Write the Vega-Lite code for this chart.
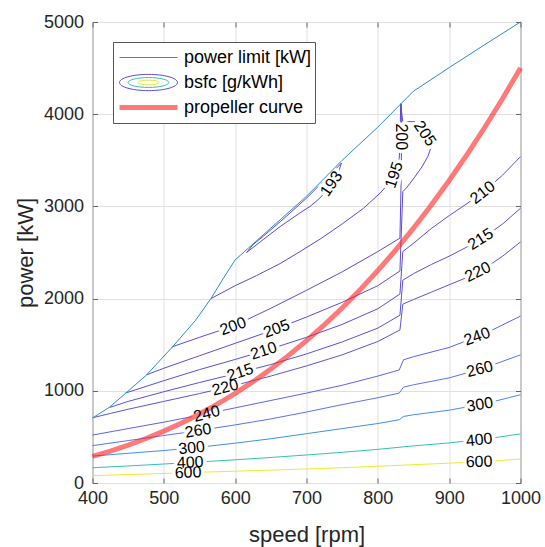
{
"$schema": "https://vega.github.io/schema/vega-lite/v6.json",
"width": 428, "height": 461,
"autosize": "none",
"padding": {"left": 92.5, "top": 22, "right": 24.5, "bottom": 64},
"background": "white",
"config": {
  "view": {"stroke": "#666666", "strokeWidth": 1},
  "font": "Liberation Sans",
  "text": {"font": "Liberation Sans", "fontSize": 16},
  "legend": {"orient": "none", "labelFont": "Liberation Sans", "labelFontSize": 18, "labelColor": "#000000", "padding": 3, "symbolOffset": 3, "labelOffset": 6, "rowPadding": 0, "clipHeight": 25, "symbolSize": 3364, "symbolStrokeWidth": 1, "labelLimit": 300}
},
"datasets": {
  "contours": [
    {"c":"193","i":0,"x":749,"y":3470},{"c":"193","i":1,"x":730,"y":3320},{"c":"193","i":2,"x":700,"y":3090},{"c":"193","i":3,"x":670,"y":2880},{"c":"193","i":4,"x":640,"y":2680},{"c":"193","i":5,"x":625,"y":2585},{"c":"193","i":6,"x":616,"y":2500},{"c":"193","i":7,"x":640,"y":2644},{"c":"193","i":8,"x":663,"y":2781},{"c":"193","i":9,"x":690,"y":2925},{"c":"193","i":10,"x":705,"y":3000},{"c":"193","i":11,"x":716,"y":3070},{"c":"193","i":12,"x":726,"y":3150},{"c":"193","i":13,"x":736,"y":3255},{"c":"193","i":14,"x":746,"y":3400},{"c":"193","i":15,"x":749,"y":3470},
    {"c":"195","i":0,"x":566,"y":2000},{"c":"195","i":1,"x":600,"y":2140},{"c":"195","i":2,"x":630,"y":2250},{"c":"195","i":3,"x":663,"y":2380},{"c":"195","i":4,"x":691,"y":2510},{"c":"195","i":5,"x":720,"y":2650},{"c":"195","i":6,"x":750,"y":2810},{"c":"195","i":7,"x":780,"y":2980},{"c":"195","i":8,"x":803,"y":3143},{"c":"195","i":9,"x":812,"y":3220},{"c":"195","i":10,"x":820,"y":3300},{"c":"195","i":11,"x":826,"y":3400},{"c":"195","i":12,"x":830,"y":3520},{"c":"195","i":13,"x":831,"y":3650},{"c":"195","i":14,"x":832,"y":4115},
    {"c":"200","i":0,"x":511,"y":1475},{"c":"200","i":1,"x":550,"y":1580},{"c":"200","i":2,"x":600,"y":1710},{"c":"200","i":3,"x":650,"y":1895},{"c":"200","i":4,"x":700,"y":2090},{"c":"200","i":5,"x":750,"y":2290},{"c":"200","i":6,"x":800,"y":2510},{"c":"200","i":7,"x":831,"y":2656},{"c":"200","i":8,"x":833,"y":3400},{"c":"200","i":9,"x":833,"y":4115},
    {"c":"205","i":0,"x":476,"y":1174},{"c":"205","i":1,"x":500,"y":1245},{"c":"205","i":2,"x":550,"y":1380},{"c":"205","i":3,"x":600,"y":1515},{"c":"205","i":4,"x":650,"y":1650},{"c":"205","i":5,"x":700,"y":1800},{"c":"205","i":6,"x":750,"y":1960},{"c":"205","i":7,"x":800,"y":2140},{"c":"205","i":8,"x":831,"y":2300},{"c":"205","i":9,"x":835,"y":3160},{"c":"205","i":10,"x":840,"y":3200},{"c":"205","i":11,"x":850,"y":3300},{"c":"205","i":12,"x":862,"y":3430},{"c":"205","i":13,"x":870,"y":3540},{"c":"205","i":14,"x":875,"y":3648},{"c":"205","i":15,"x":864,"y":3785},{"c":"205","i":16,"x":852,"y":3919},{"c":"205","i":17,"x":835,"y":3919},{"c":"205","i":18,"x":832,"y":4112},
    {"c":"210","i":0,"x":446,"y":975},{"c":"210","i":1,"x":500,"y":1110},{"c":"210","i":2,"x":550,"y":1230},{"c":"210","i":3,"x":600,"y":1340},{"c":"210","i":4,"x":650,"y":1455},{"c":"210","i":5,"x":700,"y":1580},{"c":"210","i":6,"x":750,"y":1720},{"c":"210","i":7,"x":800,"y":1890},{"c":"210","i":8,"x":831,"y":2050},{"c":"210","i":9,"x":835,"y":2510},{"c":"210","i":10,"x":850,"y":2600},{"c":"210","i":11,"x":875,"y":2760},{"c":"210","i":12,"x":900,"y":2900},{"c":"210","i":13,"x":925,"y":3030},{"c":"210","i":14,"x":950,"y":3170},{"c":"210","i":15,"x":975,"y":3340},{"c":"210","i":16,"x":1000,"y":3540},
    {"c":"215","i":0,"x":424,"y":819},{"c":"215","i":1,"x":450,"y":885},{"c":"215","i":2,"x":500,"y":990},{"c":"215","i":3,"x":550,"y":1090},{"c":"215","i":4,"x":600,"y":1185},{"c":"215","i":5,"x":650,"y":1285},{"c":"215","i":6,"x":700,"y":1400},{"c":"215","i":7,"x":750,"y":1530},{"c":"215","i":8,"x":800,"y":1680},{"c":"215","i":9,"x":831,"y":1820},{"c":"215","i":10,"x":835,"y":2200},{"c":"215","i":11,"x":850,"y":2270},{"c":"215","i":12,"x":875,"y":2370},{"c":"215","i":13,"x":900,"y":2460},{"c":"215","i":14,"x":925,"y":2560},{"c":"215","i":15,"x":950,"y":2670},{"c":"215","i":16,"x":975,"y":2810},{"c":"215","i":17,"x":1000,"y":2980},
    {"c":"220","i":0,"x":400,"y":708},{"c":"220","i":1,"x":450,"y":800},{"c":"220","i":2,"x":500,"y":885},{"c":"220","i":3,"x":550,"y":970},{"c":"220","i":4,"x":600,"y":1060},{"c":"220","i":5,"x":650,"y":1160},{"c":"220","i":6,"x":700,"y":1270},{"c":"220","i":7,"x":750,"y":1390},{"c":"220","i":8,"x":800,"y":1535},{"c":"220","i":9,"x":831,"y":1660},{"c":"220","i":10,"x":835,"y":1940},{"c":"220","i":11,"x":850,"y":1990},{"c":"220","i":12,"x":875,"y":2070},{"c":"220","i":13,"x":900,"y":2150},{"c":"220","i":14,"x":925,"y":2230},{"c":"220","i":15,"x":950,"y":2330},{"c":"220","i":16,"x":975,"y":2460},{"c":"220","i":17,"x":1000,"y":2615},
    {"c":"240","i":0,"x":400,"y":520},{"c":"240","i":1,"x":450,"y":590},{"c":"240","i":2,"x":500,"y":660},{"c":"240","i":3,"x":550,"y":735},{"c":"240","i":4,"x":600,"y":815},{"c":"240","i":5,"x":650,"y":895},{"c":"240","i":6,"x":700,"y":975},{"c":"240","i":7,"x":750,"y":1060},{"c":"240","i":8,"x":800,"y":1160},{"c":"240","i":9,"x":830,"y":1226},{"c":"240","i":10,"x":836,"y":1336},{"c":"240","i":11,"x":850,"y":1370},{"c":"240","i":12,"x":900,"y":1470},{"c":"240","i":13,"x":950,"y":1620},{"c":"240","i":14,"x":1000,"y":1810},
    {"c":"260","i":0,"x":400,"y":405},{"c":"260","i":1,"x":450,"y":460},{"c":"260","i":2,"x":500,"y":515},{"c":"260","i":3,"x":550,"y":570},{"c":"260","i":4,"x":600,"y":630},{"c":"260","i":5,"x":650,"y":695},{"c":"260","i":6,"x":700,"y":770},{"c":"260","i":7,"x":750,"y":850},{"c":"260","i":8,"x":800,"y":925},{"c":"260","i":9,"x":830,"y":975},{"c":"260","i":10,"x":836,"y":1040},{"c":"260","i":11,"x":850,"y":1065},{"c":"260","i":12,"x":900,"y":1140},{"c":"260","i":13,"x":950,"y":1250},{"c":"260","i":14,"x":1000,"y":1390},
    {"c":"300","i":0,"x":400,"y":292},{"c":"300","i":1,"x":450,"y":322},{"c":"300","i":2,"x":500,"y":352},{"c":"300","i":3,"x":550,"y":388},{"c":"300","i":4,"x":600,"y":432},{"c":"300","i":5,"x":650,"y":480},{"c":"300","i":6,"x":700,"y":535},{"c":"300","i":7,"x":750,"y":590},{"c":"300","i":8,"x":800,"y":645},{"c":"300","i":9,"x":830,"y":686},{"c":"300","i":10,"x":836,"y":722},{"c":"300","i":11,"x":850,"y":740},{"c":"300","i":12,"x":900,"y":790},{"c":"300","i":13,"x":950,"y":860},{"c":"300","i":14,"x":1000,"y":957},
    {"c":"400","i":0,"x":400,"y":165},{"c":"400","i":1,"x":450,"y":185},{"c":"400","i":2,"x":500,"y":206},{"c":"400","i":3,"x":550,"y":228},{"c":"400","i":4,"x":600,"y":252},{"c":"400","i":5,"x":650,"y":277},{"c":"400","i":6,"x":700,"y":304},{"c":"400","i":7,"x":750,"y":333},{"c":"400","i":8,"x":800,"y":365},{"c":"400","i":9,"x":831,"y":388},{"c":"400","i":10,"x":836,"y":393},{"c":"400","i":11,"x":900,"y":435},{"c":"400","i":12,"x":950,"y":475},{"c":"400","i":13,"x":1000,"y":533},
    {"c":"600","i":0,"x":400,"y":80},{"c":"600","i":1,"x":450,"y":92},{"c":"600","i":2,"x":500,"y":104},{"c":"600","i":3,"x":550,"y":116},{"c":"600","i":4,"x":600,"y":128},{"c":"600","i":5,"x":650,"y":140},{"c":"600","i":6,"x":700,"y":152},{"c":"600","i":7,"x":750,"y":166},{"c":"600","i":8,"x":800,"y":182},{"c":"600","i":9,"x":831,"y":192},{"c":"600","i":10,"x":900,"y":215},{"c":"600","i":11,"x":950,"y":233},{"c":"600","i":12,"x":1000,"y":260}
  ],
  "limit": [
    {"x":400,"y":705},{"x":424,"y":823},{"x":446,"y":970},{"x":476,"y":1174},{"x":512,"y":1475},{"x":544,"y":1760},{"x":566,"y":2000},{"x":583,"y":2214},{"x":600,"y":2420},{"x":650,"y":2765},{"x":700,"y":3110},{"x":750,"y":3500},{"x":800,"y":3860},{"x":832,"y":4110},{"x":850,"y":4250},{"x":900,"y":4505},{"x":950,"y":4755},{"x":1000,"y":5000}
  ],
  "prop": [
    {"x":400,"y":288},{"x":425,"y":345.4},{"x":450,"y":410.1},{"x":475,"y":482.3},{"x":500,"y":562.5},{"x":525,"y":651.2},{"x":550,"y":748.7},{"x":575,"y":855.5},{"x":600,"y":972},{"x":625,"y":1098.6},{"x":650,"y":1235.8},{"x":675,"y":1384},{"x":700,"y":1543.5},{"x":725,"y":1714.9},{"x":750,"y":1898.4},{"x":775,"y":2094.7},{"x":800,"y":2304},{"x":825,"y":2526.8},{"x":850,"y":2763.6},{"x":875,"y":3014.6},{"x":900,"y":3280.5},{"x":925,"y":3561.5},{"x":950,"y":3858.2},{"x":975,"y":4170.9},{"x":1000,"y":4500}
  ],
  "labels": [
    {"id":"193a","t":"193","x":735,"y":3245},
    {"id":"195a","t":"195","x":823,"y":3340},
    {"id":"200t","t":"200","x":832.5,"y":3755},
    {"id":"205t","t":"205","x":866,"y":3790},
    {"id":"200L","t":"200","x":597,"y":1700},
    {"id":"205L","t":"205","x":658,"y":1672},
    {"id":"210L","t":"210","x":640,"y":1432},
    {"id":"215L","t":"215","x":607,"y":1200},
    {"id":"220L","t":"220","x":586,"y":1035},
    {"id":"240L","t":"240","x":560,"y":750},
    {"id":"260L","t":"260","x":548,"y":567},
    {"id":"300L","t":"300","x":539,"y":380},
    {"id":"400L","t":"400","x":537,"y":222},
    {"id":"600L","t":"600","x":534,"y":112},
    {"id":"210R","t":"210","x":947,"y":3150},
    {"id":"215R","t":"215","x":944,"y":2645},
    {"id":"220R","t":"220","x":940,"y":2290},
    {"id":"240R","t":"240","x":939,"y":1588},
    {"id":"260R","t":"260","x":943,"y":1235},
    {"id":"300R","t":"300","x":943,"y":850},
    {"id":"400R","t":"400","x":942,"y":468},
    {"id":"600R","t":"600","x":942,"y":230}
  ]
},
"encoding": {
  "x": {"field": "x", "type": "quantitative", "scale": {"domain": [400, 1000], "nice": false, "zero": false}, "axis": null},
  "y": {"field": "y", "type": "quantitative", "scale": {"domain": [0, 5000], "nice": false, "zero": false}, "axis": null}
},
"layer": [
  {
    "data": {"name": "contours"},
    "mark": {"type": "line", "strokeWidth": 1},
    "encoding": {
      "x": {"field": "x", "type": "quantitative", "scale": {"domain": [400, 1000], "nice": false, "zero": false},
        "axis": {"orient": "bottom", "values": [400,500,600,700,800,900,1000], "format": "d", "title": "speed [rpm]", "grid": true, "gridColor": "#e0e0e0", "domain": false, "ticks": true, "tickSize": -5, "tickColor": "#666666", "labelFlush": false, "labelOverlap": false, "labelFont": "Liberation Sans", "labelFontSize": 18, "labelColor": "#262626", "labelPadding": 11, "titleFont": "Liberation Sans", "titleFontSize": 22, "titleFontWeight": "normal", "titleColor": "#262626", "titlePadding": 17}},
      "y": {"field": "y", "type": "quantitative", "scale": {"domain": [0, 5000], "nice": false, "zero": false},
        "axis": {"orient": "left", "values": [0,1000,2000,3000,4000,5000], "format": "d", "title": "power [kW]", "grid": true, "gridColor": "#e0e0e0", "domain": false, "ticks": true, "tickSize": -5, "tickColor": "#666666", "labelFlush": false, "labelOverlap": false, "labelFont": "Liberation Sans", "labelFontSize": 18, "labelColor": "#262626", "labelPadding": 14, "titleFont": "Liberation Sans", "titleFontSize": 22, "titleFontWeight": "normal", "titleColor": "#262626", "titlePadding": 6}},
      "stroke": {"field": "c", "type": "nominal", "scale": {"domain": ["193","195","200","205","210","215","220","240","260","300","400","600"], "range": ["#5a48d0","#5a49d2","#5a4ad4","#5a4cd6","#5a4ed8","#5a51da","#5a54dc","#5b63ea","#5575f2","#3f8ef0","#33c2b0","#ecec28"]}, "legend": null},
      "order": {"field": "i", "type": "quantitative"}
    }
  },
  {"data": {"name": "labels"}, "transform": [{"filter": {"field": "id", "oneOf": ["600L","400L","600R"]}}], "mark": {"type": "text", "angle": -2, "fill": "white", "stroke": "white", "strokeWidth": 7, "strokeJoin": "round"}, "encoding": {"text": {"field": "t"}}},
  {"data": {"name": "labels"}, "transform": [{"filter": {"field": "id", "oneOf": ["300L","400R"]}}], "mark": {"type": "text", "angle": -6, "fill": "white", "stroke": "white", "strokeWidth": 7, "strokeJoin": "round"}, "encoding": {"text": {"field": "t"}}},
  {"data": {"name": "labels"}, "transform": [{"filter": {"field": "id", "oneOf": ["260L","300R"]}}], "mark": {"type": "text", "angle": -9, "fill": "white", "stroke": "white", "strokeWidth": 7, "strokeJoin": "round"}, "encoding": {"text": {"field": "t"}}},
  {"data": {"name": "labels"}, "transform": [{"filter": {"field": "id", "oneOf": ["240L","220L","260R"]}}], "mark": {"type": "text", "angle": -14, "fill": "white", "stroke": "white", "strokeWidth": 7, "strokeJoin": "round"}, "encoding": {"text": {"field": "t"}}},
  {"data": {"name": "labels"}, "transform": [{"filter": {"field": "id", "oneOf": ["215L","210L"]}}], "mark": {"type": "text", "angle": -18, "fill": "white", "stroke": "white", "strokeWidth": 7, "strokeJoin": "round"}, "encoding": {"text": {"field": "t"}}},
  {"data": {"name": "labels"}, "transform": [{"filter": {"field": "id", "oneOf": ["200L","205L","240R"]}}], "mark": {"type": "text", "angle": -20, "fill": "white", "stroke": "white", "strokeWidth": 7, "strokeJoin": "round"}, "encoding": {"text": {"field": "t"}}},
  {"data": {"name": "labels"}, "transform": [{"filter": {"field": "id", "oneOf": ["220R"]}}], "mark": {"type": "text", "angle": -26, "fill": "white", "stroke": "white", "strokeWidth": 7, "strokeJoin": "round"}, "encoding": {"text": {"field": "t"}}},
  {"data": {"name": "labels"}, "transform": [{"filter": {"field": "id", "oneOf": ["215R"]}}], "mark": {"type": "text", "angle": -32, "fill": "white", "stroke": "white", "strokeWidth": 7, "strokeJoin": "round"}, "encoding": {"text": {"field": "t"}}},
  {"data": {"name": "labels"}, "transform": [{"filter": {"field": "id", "oneOf": ["210R"]}}], "mark": {"type": "text", "angle": -38, "fill": "white", "stroke": "white", "strokeWidth": 7, "strokeJoin": "round"}, "encoding": {"text": {"field": "t"}}},
  {"data": {"name": "labels"}, "transform": [{"filter": {"field": "id", "oneOf": ["193a"]}}], "mark": {"type": "text", "angle": -55, "fill": "white", "stroke": "white", "strokeWidth": 7, "strokeJoin": "round"}, "encoding": {"text": {"field": "t"}}},
  {"data": {"name": "labels"}, "transform": [{"filter": {"field": "id", "oneOf": ["195a"]}}], "mark": {"type": "text", "angle": -72, "fill": "white", "stroke": "white", "strokeWidth": 7, "strokeJoin": "round"}, "encoding": {"text": {"field": "t"}}},
  {"data": {"name": "labels"}, "transform": [{"filter": {"field": "id", "oneOf": ["200t"]}}], "mark": {"type": "text", "angle": 90, "fill": "white", "stroke": "white", "strokeWidth": 7, "strokeJoin": "round"}, "encoding": {"text": {"field": "t"}}},
  {"data": {"name": "labels"}, "transform": [{"filter": {"field": "id", "oneOf": ["205t"]}}], "mark": {"type": "text", "angle": 56, "fill": "white", "stroke": "white", "strokeWidth": 7, "strokeJoin": "round"}, "encoding": {"text": {"field": "t"}}},
  {
    "data": {"name": "limit"},
    "mark": {"type": "line", "color": "#2a8ad0", "strokeWidth": 1},
    "encoding": {
      "x": {"field": "x", "type": "quantitative", "scale": {"domain": [400, 1000], "nice": false, "zero": false},
        "axis": {"orient": "top", "values": [400,500,600,700,800,900,1000], "labels": false, "grid": false, "domain": false, "title": null, "ticks": true, "tickSize": -5, "tickColor": "#666666"}},
      "y": {"field": "y", "type": "quantitative", "scale": {"domain": [0, 5000], "nice": false, "zero": false},
        "axis": {"orient": "right", "values": [0,1000,2000,3000,4000,5000], "labels": false, "grid": false, "domain": false, "title": null, "ticks": true, "tickSize": -5, "tickColor": "#666666"}}
    }
  },
  {"data": {"name": "prop"}, "mark": {"type": "line", "color": "#ff2020", "opacity": 0.6, "strokeWidth": 5}, "encoding": {}},
  {"data": {"name": "labels"}, "transform": [{"filter": {"field": "id", "oneOf": ["600L","400L","600R"]}}], "mark": {"type": "text", "angle": -2, "fill": "#000000"}, "encoding": {"text": {"field": "t"}}},
  {"data": {"name": "labels"}, "transform": [{"filter": {"field": "id", "oneOf": ["300L","400R"]}}], "mark": {"type": "text", "angle": -6, "fill": "#000000"}, "encoding": {"text": {"field": "t"}}},
  {"data": {"name": "labels"}, "transform": [{"filter": {"field": "id", "oneOf": ["260L","300R"]}}], "mark": {"type": "text", "angle": -9, "fill": "#000000"}, "encoding": {"text": {"field": "t"}}},
  {"data": {"name": "labels"}, "transform": [{"filter": {"field": "id", "oneOf": ["240L","220L","260R"]}}], "mark": {"type": "text", "angle": -14, "fill": "#000000"}, "encoding": {"text": {"field": "t"}}},
  {"data": {"name": "labels"}, "transform": [{"filter": {"field": "id", "oneOf": ["215L","210L"]}}], "mark": {"type": "text", "angle": -18, "fill": "#000000"}, "encoding": {"text": {"field": "t"}}},
  {"data": {"name": "labels"}, "transform": [{"filter": {"field": "id", "oneOf": ["200L","205L","240R"]}}], "mark": {"type": "text", "angle": -20, "fill": "#000000"}, "encoding": {"text": {"field": "t"}}},
  {"data": {"name": "labels"}, "transform": [{"filter": {"field": "id", "oneOf": ["220R"]}}], "mark": {"type": "text", "angle": -26, "fill": "#000000"}, "encoding": {"text": {"field": "t"}}},
  {"data": {"name": "labels"}, "transform": [{"filter": {"field": "id", "oneOf": ["215R"]}}], "mark": {"type": "text", "angle": -32, "fill": "#000000"}, "encoding": {"text": {"field": "t"}}},
  {"data": {"name": "labels"}, "transform": [{"filter": {"field": "id", "oneOf": ["210R"]}}], "mark": {"type": "text", "angle": -38, "fill": "#000000"}, "encoding": {"text": {"field": "t"}}},
  {"data": {"name": "labels"}, "transform": [{"filter": {"field": "id", "oneOf": ["193a"]}}], "mark": {"type": "text", "angle": -55, "fill": "#000000"}, "encoding": {"text": {"field": "t"}}},
  {"data": {"name": "labels"}, "transform": [{"filter": {"field": "id", "oneOf": ["195a"]}}], "mark": {"type": "text", "angle": -72, "fill": "#000000"}, "encoding": {"text": {"field": "t"}}},
  {"data": {"name": "labels"}, "transform": [{"filter": {"field": "id", "oneOf": ["200t"]}}], "mark": {"type": "text", "angle": 90, "fill": "#000000"}, "encoding": {"text": {"field": "t"}}},
  {"data": {"name": "labels"}, "transform": [{"filter": {"field": "id", "oneOf": ["205t"]}}], "mark": {"type": "text", "angle": 56, "fill": "#000000"}, "encoding": {"text": {"field": "t"}}},
  {
    "data": {"values": [{"series": "power limit [kW]"}, {"series": "bsfc [g/kWh]"}, {"series": "propeller curve"}]},
    "mark": {"type": "point", "filled": false, "opacity": 0},
    "encoding": {
      "color": {"field": "series", "type": "nominal",
        "scale": {"domain": ["power limit [kW]", "bsfc [g/kWh]", "propeller curve"], "range": ["#2a8ad0", "#5a4ad4", "#ff7878"]},
        "legend": {"title": null, "legendX": 20.5, "legendY": 20, "strokeColor": "#555555", "fillColor": "#ffffff", "zindex": 1}},
      "shape": {"field": "series", "type": "nominal",
        "scale": {"domain": ["power limit [kW]", "bsfc [g/kWh]", "propeller curve"], "range": ["M-1,0H1", "M-1,0A1,0.28,0,1,1,1,0A1,0.28,0,1,1,-1,0Z", "M-1,-0.07H1M-1,-0.035H1M-1,0H1M-1,0.035H1M-1,0.07H1"]},
        "legend": {"title": null, "legendX": 20.5, "legendY": 20, "strokeColor": "#555555", "fillColor": "#ffffff", "zindex": 1}}
    }
  },
  {
    "data": {"values": [{"b": "m"}]},
    "mark": {"type": "point", "filled": false, "opacity": 0, "shape": "M-0.7,0A0.7,0.17,0,1,1,0.7,0A0.7,0.17,0,1,1,-0.7,0Z"},
    "encoding": {
      "stroke": {"field": "b", "type": "nominal", "scale": {"domain": ["m"], "range": ["#33c2b0"]},
        "legend": {"title": null, "labelExpr": "''", "legendX": 20.5, "legendY": 45, "strokeColor": "transparent", "fillColor": "transparent", "symbolType": "M-0.7,0A0.7,0.17,0,1,1,0.7,0A0.7,0.17,0,1,1,-0.7,0Z", "symbolFillColor": "transparent", "symbolOpacity": 1, "zindex": 2}}
    }
  },
  {
    "data": {"values": [{"d": "n"}]},
    "mark": {"type": "point", "filled": false, "opacity": 0, "shape": "M-0.36,0A0.36,0.08,0,1,1,0.36,0A0.36,0.08,0,1,1,-0.36,0Z"},
    "encoding": {
      "stroke": {"field": "d", "type": "nominal", "scale": {"domain": ["n"], "range": ["#e6e620"]},
        "legend": {"title": null, "labelExpr": "''", "legendX": 20.5, "legendY": 45, "strokeColor": "transparent", "fillColor": "transparent", "symbolType": "M-0.36,0A0.36,0.08,0,1,1,0.36,0A0.36,0.08,0,1,1,-0.36,0Z", "symbolFillColor": "transparent", "symbolOpacity": 1, "zindex": 2}}
    }
  }
],
"resolve": {"axis": {"x": "independent", "y": "independent"}, "scale": {"stroke": "independent"}}
}
